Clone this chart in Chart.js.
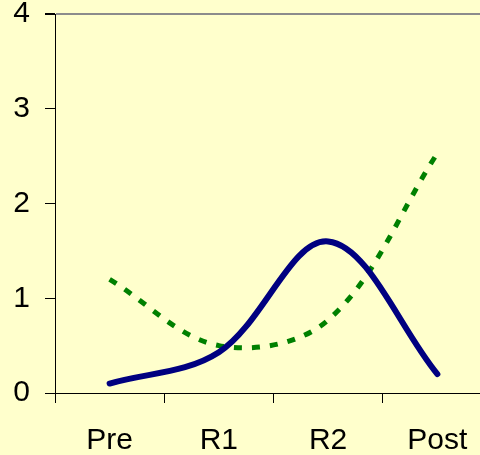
<!DOCTYPE html>
<html>
<head>
<meta charset="utf-8">
<script src="https://cdn.jsdelivr.net/npm/chart.js@4"></script>
<style>
  html, body { margin: 0; padding: 0; background: #ffffcc; overflow: hidden; width: 480px; height: 455px; }
  canvas { display: block; }
</style>
</head>
<body>
<!-- canvas a bit wider than the window: the plot's right edge falls outside the picture -->
<canvas id="myChart" width="492" height="455"></canvas>
<script>
// categories and series
const categories = ["Pre", "R1", "R2", "Post"];
const solidValues = [0.1, 0.43, 1.6, 0.2];
const dottedValues = [1.2, 0.5, 0.77, 2.53];
const yTicks = [0, 1, 2, 3, 4];

const labelFont = { family: "Liberation Sans", size: 30 };

new Chart(document.getElementById("myChart"), {
  type: "line",
  data: {
    labels: categories,
    datasets: [
      {
        data: solidValues,
        borderColor: "#000080",
        borderWidth: 6,
        pointRadius: 0,
        tension: 0.35,
        borderCapStyle: "round",
        borderJoinStyle: "round"
      },
      {
        data: dottedValues,
        borderColor: "#008000",
        borderWidth: 5,
        borderDash: [8, 10],
        pointRadius: 0,
        tension: 0.35
      }
    ]
  },
  options: {
    responsive: false,
    animation: false,
    layout: { padding: 0 },
    plugins: { legend: { display: false }, tooltip: { enabled: false } },
    scales: {
      x: {
        offset: true,
        afterFit: (scale) => {
          scale.height = 62;
          scale.paddingLeft = 0;
          scale.paddingRight = 0;
        },
        grid: { offset: true, drawOnChartArea: false, tickLength: 10, tickColor: "#000" },
        border: { color: "#000", width: 1 },
        ticks: { color: "#000", font: labelFont, padding: 20, maxRotation: 0 }
      },
      y: {
        min: 0,
        max: 4,
        afterFit: (scale) => {
          scale.width = 55;
          scale.paddingTop = 14;
          scale.paddingBottom = 0;
        },
        afterBuildTicks: (scale) => { scale.ticks = yTicks.map(v => ({ value: v })); },
        grid: {
          color: (ctx) => ctx.tick && ctx.tick.value === 4 ? "#8c8c8c" : "rgba(0,0,0,0)",
          lineWidth: (ctx) => ctx.tick && ctx.tick.value === 4 ? 2 : 1,
          tickLength: 10,
          tickColor: "#000"
        },
        border: { color: "#000", width: 1 },
        ticks: { color: "#000", font: labelFont, padding: 15 }
      }
    }
  }
});
</script>
</body>
</html>
